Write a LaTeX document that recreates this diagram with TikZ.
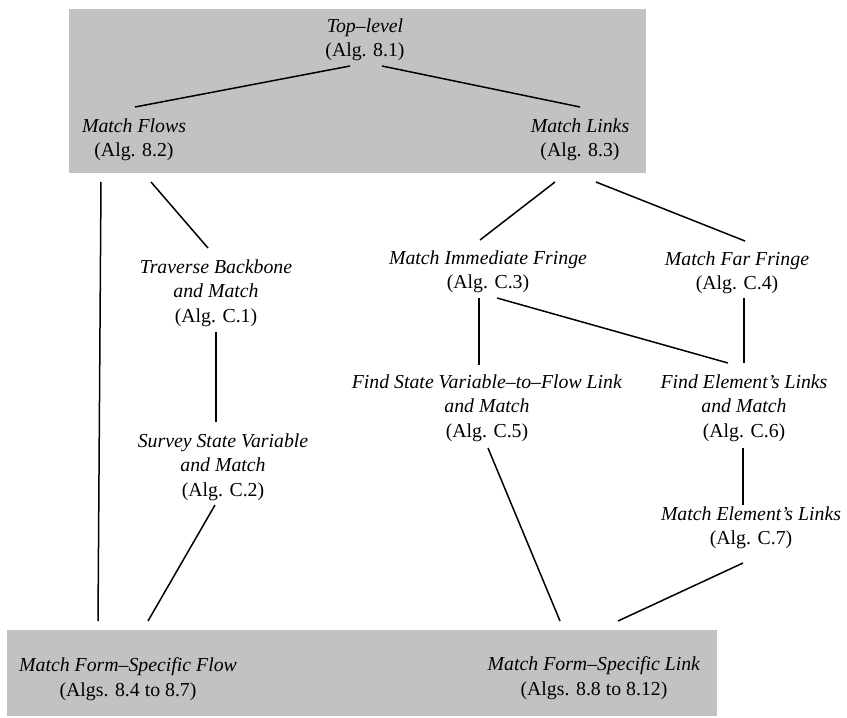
\documentclass[tikz,border=0pt]{standalone}
\usepackage{fontspec}
\setmainfont{Liberation Serif}
\definecolor{boxgray}{RGB}{194,194,194}
\begin{document}
\begin{tikzpicture}[x=1pt,y=-1pt,
  alg/.style={align=center,inner sep=0pt,font=\fontsize{19.8}{24.5}\selectfont},
  link/.style={line width=1.5pt,black}]
\useasboundingbox (0,0) rectangle (847,718);

% shaded bands
\fill[boxgray] (69,9) rectangle (646,173);
\fill[boxgray] (7,630) rectangle (717,716);

% routines
\node[alg] (top)    at (365,40)  {\textit{Top\textendash level}\\(Alg. 8.1)};
\node[alg] (flows)  at (134,140) {\textit{Match Flows}\\(Alg. 8.2)};
\node[alg] (links)  at (580,140) {\textit{Match Links}\\(Alg. 8.3)};
\node[alg] (trav)   at (216,293) {\textit{Traverse Backbone}\\\textit{and Match}\\(Alg. C.1)};
\node[alg] (survey) at (223,467) {\textit{Survey State Variable}\\\textit{and Match}\\(Alg. C.2)};
\node[alg] (imm)    at (488,272) {\textit{Match Immediate Fringe}\\(Alg. C.3)};
\node[alg] (far)    at (737,273) {\textit{Match Far Fringe}\\(Alg. C.4)};
\node[alg] (fsv)    at (487,408) {\textit{Find State Variable\textendash to\textendash Flow Link}\\\textit{and Match}\\(Alg. C.5)};
\node[alg] (fel)    at (744,408) {\textit{Find Element’s Links}\\\textit{and Match}\\(Alg. C.6)};
\node[alg] (mel)    at (751,528) {\textit{Match Element’s Links}\\(Alg. C.7)};
\node[alg] (ffl)    at (128,679) {\textit{Match Form\textendash Specific Flow}\\(Algs. 8.4 to 8.7)};
\node[alg] (fsl)    at (594,678) {\textit{Match Form\textendash Specific Link}\\(Algs. 8.8 to 8.12)};

% call structure
\draw[link] ([shift={(-15,26)}]top.center)   -- ([shift={(1,-33)}]flows.center);
\draw[link] ([shift={(17,26)}]top.center)    -- ([shift={(0,-33)}]links.center);
\draw[link] ([shift={(-33,42)}]flows.center) -- ([shift={(-30,-58)}]ffl.center);
\draw[link] ([shift={(17,42)}]flows.center)  -- ([shift={(-8,-45)}]trav.center);
\draw[link] ([shift={(0,39)}]trav.center)    -- ([shift={(-7,-45)}]survey.center);
\draw[link] ([shift={(-8,38)}]survey.center) -- ([shift={(20,-58)}]ffl.center);
\draw[link] ([shift={(-25,42)}]links.center) -- ([shift={(-8,-32)}]imm.center);
\draw[link] ([shift={(16,42)}]links.center)  -- ([shift={(8,-32)}]far.center);
\draw[link] ([shift={(-9,26)}]imm.center)    -- ([shift={(-8,-43)}]fsv.center);
\draw[link] ([shift={(9,26)}]imm.center)     -- ([shift={(-16,-45)}]fel.center);
\draw[link] ([shift={(7,25)}]far.center)     -- ([shift={(0,-45)}]fel.center);
\draw[link] ([shift={(1,40)}]fsv.center)     -- ([shift={(-34,-57)}]fsl.center);
\draw[link] ([shift={(-1,40)}]fel.center)    -- ([shift={(-8,-23)}]mel.center);
\draw[link] ([shift={(-8,35)}]mel.center)    -- ([shift={(24,-57)}]fsl.center);
\end{tikzpicture}
\end{document}
